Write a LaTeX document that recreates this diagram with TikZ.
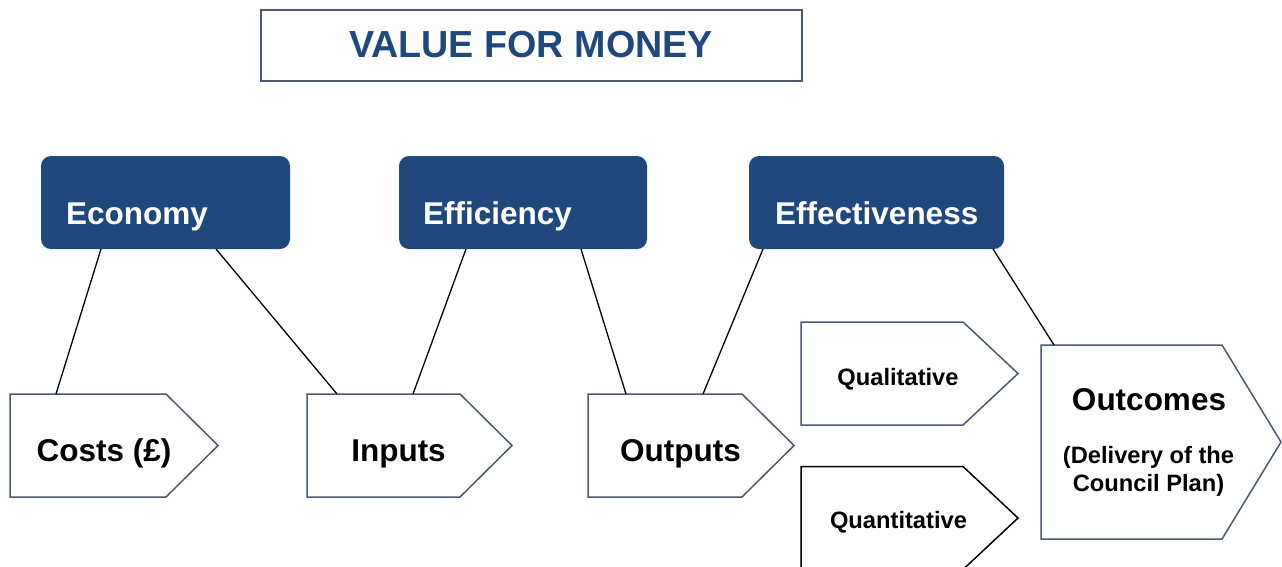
\documentclass[tikz,border=0pt]{standalone}
\usepackage{fontspec}
\setmainfont{Liberation Sans}
\usetikzlibrary{calc}
\definecolor{navy}{HTML}{1F497D}
\definecolor{slate}{HTML}{4A5A72}
\tikzset{
  box/.style={rectangle, inner sep=0pt, outer sep=0pt},
  titlebox/.style={box, draw=slate, line width=2.4pt, text=navy, font=\bfseries\fontsize{37.7}{40}\selectfont},
  bluebox/.style={box, fill=navy, rounded corners=10pt, minimum width=249pt, minimum height=93pt},
  bluetext/.style={inner sep=0pt, text=white, font=\bfseries\fontsize{31.5}{36}\selectfont, anchor=base west},
  bigtext/.style={inner sep=0pt, font=\bfseries\fontsize{31.5}{36}\selectfont, anchor=base},
  smalltext/.style={inner sep=0pt, font=\bfseries\fontsize{23.7}{28}\selectfont, anchor=base},
  pentline/.style={draw=slate, line width=1.5pt, line join=miter, fill=white},
  link/.style={draw=black, line width=1.3pt},
}
\begin{document}
\begin{tikzpicture}[x=1pt, y=-1pt]
\useasboundingbox (0,0) rectangle (1282,566);
% title
\node[box, draw=slate, line width=2.4pt, minimum width=541pt, minimum height=71pt] (title) at (531.5,45.5) {};
\node[inner sep=0pt, text=navy, font=\bfseries\fontsize{37.7}{40}\selectfont, anchor=base] (titleT) at (531,57) {VALUE FOR MONEY};
% blue boxes
\node[bluebox] (econ) at (165.5,202.5) {};
\node[bluebox, minimum width=248pt] (eff) at (523,202.5) {};
\node[bluebox, minimum width=255pt] (effe) at (876.5,202.5) {};
\node[bluetext] (econT) at (66,224) {Economy};
\node[bluetext] (effT) at (423,224) {Efficiency};
\node[bluetext] (effeT) at (775,224) {Effectiveness};
% pentagon holders
\node[box, minimum width=208pt, minimum height=103pt] (costs) at (114,445.5) {};
\node[box, minimum width=205pt, minimum height=103pt] (inputs) at (409.5,445.5) {};
\node[box, minimum width=206pt, minimum height=103pt] (outputs) at (691,445.5) {};
\node[box, minimum width=217pt, minimum height=103pt] (qual) at (909.5,373.5) {};
\node[box, minimum width=217pt, minimum height=103pt] (quant) at (909.5,518) {};
\node[box, minimum width=240pt, minimum height=194pt] (outc) at (1161,442) {};
% pentagons
\draw[pentline] (costs.north west) -- ([xshift=-52pt]costs.north east) -- (costs.east) -- ([xshift=-52pt]costs.south east) -- (costs.south west) -- cycle;
\draw[pentline] (inputs.north west) -- ([xshift=-52pt]inputs.north east) -- (inputs.east) -- ([xshift=-52pt]inputs.south east) -- (inputs.south west) -- cycle;
\draw[pentline] (outputs.north west) -- ([xshift=-52pt]outputs.north east) -- (outputs.east) -- ([xshift=-52pt]outputs.south east) -- (outputs.south west) -- cycle;
\draw[pentline] (qual.north west) -- ([xshift=-55pt]qual.north east) -- (qual.east) -- ([xshift=-55pt]qual.south east) -- (qual.south west) -- cycle;
\draw[pentline, draw=black] (quant.north west) -- ([xshift=-55pt]quant.north east) -- (quant.east) -- ([xshift=-55pt]quant.south east) -- (quant.south west) -- cycle;
\draw[pentline] (outc.north west) -- ([xshift=-59pt]outc.north east) -- (outc.east) -- ([xshift=-59pt]outc.south east) -- (outc.south west) -- cycle;
% texts
\node[bigtext] (costsT) at (104,461) {Costs (£)};
\node[bigtext] (inputsT) at (398.5,461) {Inputs};
\node[bigtext] (outputsT) at (680.5,461) {Outputs};
\node[smalltext] (qualT) at (898,385) {Qualitative};
\node[smalltext] (quantT) at (898.5,528) {Quantitative};
\node[bigtext] (outcT) at (1149,410) {Outcomes};
\node[smalltext] (outcS1) at (1148.5,463) {(Delivery of the};
\node[smalltext] (outcS2) at (1148.5,491) {Council Plan)};
% connectors
\draw[link] ([xshift=60pt]econ.south west) -- ([xshift=46pt]costs.north west);
\draw[link] ([xshift=175pt]econ.south west) -- ([xshift=30pt]inputs.north west);
\draw[link] ([xshift=67pt]eff.south west) -- ([xshift=106pt]inputs.north west);
\draw[link] ([xshift=182pt]eff.south west) -- ([xshift=38pt]outputs.north west);
\draw[link] ([xshift=14pt]effe.south west) -- ([xshift=115pt]outputs.north west);
\draw[link] ([xshift=244pt]effe.south west) -- ([xshift=13pt]outc.north west);
\end{tikzpicture}
\end{document}
